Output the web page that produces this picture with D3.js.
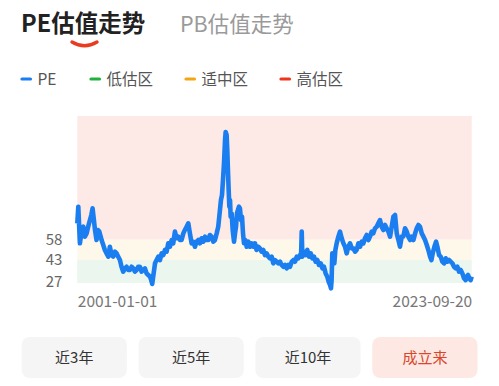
<!DOCTYPE html>
<html><head><meta charset="utf-8">
<script src="https://cdn.jsdelivr.net/npm/d3@7/dist/d3.min.js"></script>
<style>
html,body{margin:0;padding:0;background:#fff;}
svg{display:block;font-family:"Noto Sans CJK SC","Noto Sans",sans-serif;}
</style></head>
<body><svg id="c" width="499" height="386"></svg>
<script>
const tabs = ["PE估值走势", "PB估值走势"];
const legendLabels = ["PE", "低估区", "适中区", "高估区"];
const legendColors = ["#1a7ef0", "#1fb13c", "#f2a515", "#f0341c"];
const bandNames = ["低估区", "适中区", "高估区"];
const bandLow = [26, 43, 58];
const bandHigh = [43, 58, 148.7];
const bandColors = ["#ebf6ee", "#fef8ea", "#fde9e5"];
const yTicks = [27, 43, 58];
const xTickLabels = ["2001-01-01", "2023-09-20"];
const buttons = ["近3年", "近5年", "近10年", "成立来"];
const activeButton = "成立来";

const dates = ["2001-01-01","2001-01-22","2001-02-25","2001-04-01","2001-05-07","2001-06-09","2001-07-16","2001-08-18","2001-09-24","2001-10-23","2001-11-18","2001-12-16","2002-01-08","2002-02-10","2002-03-11","2002-04-09","2002-05-27","2002-07-01","2002-08-04","2002-09-09","2002-10-15","2002-11-17","2002-12-23","2003-01-26","2003-03-03","2003-04-09","2003-05-12","2003-06-17","2003-07-20","2003-08-25","2003-10-01","2003-11-03","2003-12-09","2004-01-12","2004-02-17","2004-03-24","2004-04-26","2004-06-02","2004-07-05","2004-08-10","2004-09-15","2004-10-19","2004-11-24","2004-12-28","2005-02-02","2005-03-10","2005-04-05","2005-04-26","2005-05-26","2005-06-24","2005-07-27","2005-09-02","2005-10-05","2005-11-10","2005-12-16","2006-01-19","2006-02-24","2006-03-29","2006-05-04","2006-06-09","2006-07-12","2006-08-17","2006-09-20","2006-10-26","2006-12-01","2007-01-04","2007-02-09","2007-03-14","2007-04-19","2007-05-25","2007-06-28","2007-08-03","2007-09-06","2007-10-12","2007-11-17","2007-12-20","2008-01-26","2008-02-28","2008-04-04","2008-05-10","2008-06-12","2008-07-19","2008-08-21","2008-09-27","2008-11-02","2008-12-05","2009-01-11","2009-02-13","2009-03-21","2009-04-11","2009-05-03","2009-05-24","2009-06-14","2009-07-06","2009-07-19","2009-08-08","2009-08-22","2009-09-05","2009-09-20","2009-10-05","2009-10-19","2009-11-01","2009-11-22","2009-12-14","2010-01-11","2010-02-01","2010-02-22","2010-03-14","2010-04-04","2010-04-25","2010-05-16","2010-06-06","2010-06-28","2010-07-19","2010-08-09","2010-09-06","2010-10-04","2010-11-09","2010-12-13","2011-01-16","2011-02-21","2011-03-27","2011-04-30","2011-06-05","2011-07-09","2011-08-14","2011-09-19","2011-10-23","2011-11-28","2012-01-03","2012-02-06","2012-03-13","2012-04-16","2012-05-22","2012-06-27","2012-07-31","2012-09-05","2012-10-09","2012-11-14","2012-12-20","2013-01-23","2013-02-28","2013-04-03","2013-05-09","2013-06-14","2013-07-17","2013-08-22","2013-09-25","2013-10-31","2013-11-21","2013-12-05","2013-12-19","2014-01-22","2014-02-27","2014-04-02","2014-05-08","2014-06-13","2014-07-16","2014-08-21","2014-09-24","2014-10-30","2014-12-03","2015-01-08","2015-02-13","2015-03-18","2015-04-23","2015-05-27","2015-06-24","2015-07-23","2015-08-13","2015-08-26","2015-09-09","2015-09-30","2015-10-22","2015-11-13","2015-12-10","2016-01-15","2016-02-18","2016-03-25","2016-04-30","2016-06-03","2016-07-08","2016-08-11","2016-09-16","2016-10-23","2016-11-25","2017-01-01","2017-02-03","2017-03-11","2017-04-16","2017-05-19","2017-06-24","2017-07-27","2017-09-02","2017-10-08","2017-11-10","2017-12-16","2018-01-19","2018-02-24","2018-04-01","2018-05-04","2018-06-09","2018-07-13","2018-08-18","2018-09-23","2018-10-27","2018-12-02","2019-01-07","2019-02-10","2019-03-18","2019-04-21","2019-05-27","2019-07-01","2019-08-04","2019-09-09","2019-10-12","2019-11-18","2019-12-24","2020-01-26","2020-03-03","2020-04-05","2020-05-11","2020-06-17","2020-07-20","2020-08-25","2020-09-28","2020-11-03","2020-12-09","2021-01-12","2021-02-17","2021-03-22","2021-04-28","2021-05-26","2021-06-22","2021-07-27","2021-08-31","2021-09-28","2021-11-02","2021-12-07","2022-01-11","2022-02-16","2022-03-22","2022-04-27","2022-06-01","2022-07-05","2022-08-10","2022-09-13","2022-10-19","2022-11-22","2022-12-28","2023-02-01","2023-03-08","2023-04-11","2023-05-16","2023-06-06","2023-07-05","2023-08-02","2023-08-29","2023-09-20"];
const peValues = [69.9,82.1,55.2,63.8,67.4,60.1,62.5,67.4,72.3,76.0,80.9,72.3,65.0,57.6,65.0,63.8,57.6,54.0,50.3,47.8,45.4,52.7,46.6,45.4,49.1,47.8,45.4,42.9,38.0,34.4,36.8,38.0,35.6,35.6,38.0,36.8,34.4,35.6,38.0,38.0,34.4,35.6,36.8,33.1,31.9,30.7,28.2,25.3,33.1,40.5,42.9,45.4,42.9,47.8,46.6,50.3,49.1,55.2,52.7,57.6,55.2,63.8,58.9,60.1,57.6,57.6,62.5,65.0,67.4,69.9,62.5,55.2,56.4,52.7,56.4,57.6,55.2,58.9,56.4,60.1,57.6,57.6,61.3,60.1,56.4,57.6,62.5,67.4,79.7,87.0,90.7,101.7,113.9,131.1,137.0,134.8,123.8,109.1,94.4,82.1,87.0,74.8,77.2,65.0,56.4,62.5,67.4,77.2,79.7,82.1,80.9,72.3,74.8,62.5,55.2,57.6,52.7,56.4,52.7,55.2,52.7,55.2,50.3,52.7,51.5,49.1,50.3,46.6,47.8,45.4,44.2,45.4,40.5,42.9,41.7,40.5,41.7,39.3,38.0,39.3,36.8,39.3,38.0,41.7,42.9,41.7,45.4,44.2,46.6,45.4,63.8,45.4,49.1,46.6,50.3,45.4,47.8,44.2,45.4,41.7,42.9,39.3,40.5,36.8,38.0,33.1,30.7,27.0,24.6,22.1,28.2,47.8,45.4,40.5,50.3,55.2,60.1,63.8,58.9,55.2,52.7,47.8,52.7,55.2,51.5,51.5,49.1,50.3,55.2,52.7,56.4,55.2,58.9,61.3,57.6,60.1,63.8,62.5,66.2,67.4,69.9,72.3,67.4,65.0,68.7,66.2,63.8,60.1,67.4,74.8,76.0,62.5,57.6,52.7,60.1,60.1,66.2,63.8,60.1,57.6,60.1,57.6,62.5,66.2,68.7,67.4,62.5,60.1,57.6,54.0,50.3,45.4,42.9,47.8,52.7,56.4,52.7,46.6,45.4,41.7,40.5,44.2,41.7,42.9,41.7,40.5,38.0,36.8,38.0,34.4,35.6,33.1,29.5,28.2,30.7,31.9,29.5,28.2,30.7];

const parse = d3.timeParse("%Y-%m-%d");
const data = dates.map((d, i) => ({ date: parse(d), pe: peValues[i] }));

const svg = d3.select("#c");

// Tabs
svg.append("text").attr("x", 21).attr("y", 32).attr("font-size", 23.5).attr("font-weight", 700)
  .attr("fill", "#222").text(tabs[0]);
svg.append("text").attr("x", 180).attr("y", 32).attr("font-size", 21.5).attr("font-weight", 400)
  .attr("fill", "#9a9a9a").text(tabs[1]);
svg.append("path").attr("d", "M72,42 Q84.5,49.5 97,42").attr("fill", "none")
  .attr("stroke", "#ea3a1f").attr("stroke-width", 3.4).attr("stroke-linecap", "round");

// Legend
const legendX = [22, 91, 186, 281];
const lg = svg.append("g");
legendLabels.forEach((l, i) => {
  lg.append("line").attr("x1", legendX[i]).attr("x2", legendX[i] + 8.5).attr("y1", 79).attr("y2", 79)
    .attr("stroke", legendColors[i]).attr("stroke-width", 3.2).attr("stroke-linecap", "round");
  lg.append("text").attr("x", legendX[i] + 15.5).attr("y", 84.5).attr("font-size", 15.5)
    .attr("fill", "#555").text(l);
});

// Scales
const x = d3.scaleTime().domain([parse(xTickLabels[0]), parse(xTickLabels[1])]).range([77.3, 471.7]);
const y = d3.scaleLinear().domain([27, 58]).range([281.7, 239.5]);

// Bands
svg.append("g").selectAll("rect").data(bandNames).join("rect")
  .attr("x", x.range()[0]).attr("width", x.range()[1] - x.range()[0])
  .attr("y", (d, i) => y(bandHigh[i])).attr("height", (d, i) => y(bandLow[i]) - y(bandHigh[i]))
  .attr("fill", (d, i) => bandColors[i]);

// Line
const line = d3.line().x(d => x(d.date)).y(d => y(d.pe));
svg.append("path").datum(data).attr("d", line).attr("fill", "none")
  .attr("stroke", "#1a7ef0").attr("stroke-width", 4.6).attr("stroke-linejoin", "round");

// Y axis
const yAxis = svg.append("g").attr("transform", `translate(${x.range()[0]},0)`)
  .call(d3.axisLeft(y).tickValues(yTicks).tickSize(0).tickPadding(15));
yAxis.select(".domain").remove();
yAxis.selectAll("text").attr("font-size", 15).attr("fill", "#666")
  .attr("font-family", "'Noto Sans CJK SC','Noto Sans',sans-serif");

// X axis
const xAxis = svg.append("g").attr("transform", "translate(0,296)")
  .call(d3.axisBottom(x).tickValues(xTickLabels.map(parse)).tickFormat(d3.timeFormat("%Y-%m-%d")).tickSize(0).tickPadding(0));
xAxis.select(".domain").remove();
xAxis.selectAll("text").attr("font-size", 15.5).attr("fill", "#777").attr("dy", "0.71em")
  .attr("font-family", "'Noto Sans CJK SC','Noto Sans',sans-serif")
  .attr("text-anchor", (d, i) => i === 0 ? "start" : "end");

// Buttons
const btnX = d3.scaleBand().domain(buttons).range([21.7, 477.5]).paddingInner(0.1);
const bg = svg.append("g").selectAll("g").data(buttons).join("g")
  .attr("transform", d => `translate(${btnX(d)},337)`);
bg.append("rect").attr("width", btnX.bandwidth()).attr("height", 41).attr("rx", 8)
  .attr("fill", d => d === activeButton ? "#fde8e3" : "#f5f5f5");
bg.append("text").attr("x", btnX.bandwidth() / 2).attr("y", 25.5).attr("text-anchor", "middle")
  .attr("font-size", 15).attr("fill", d => d === activeButton ? "#d9462a" : "#333").text(d => d);
</script></body></html>
